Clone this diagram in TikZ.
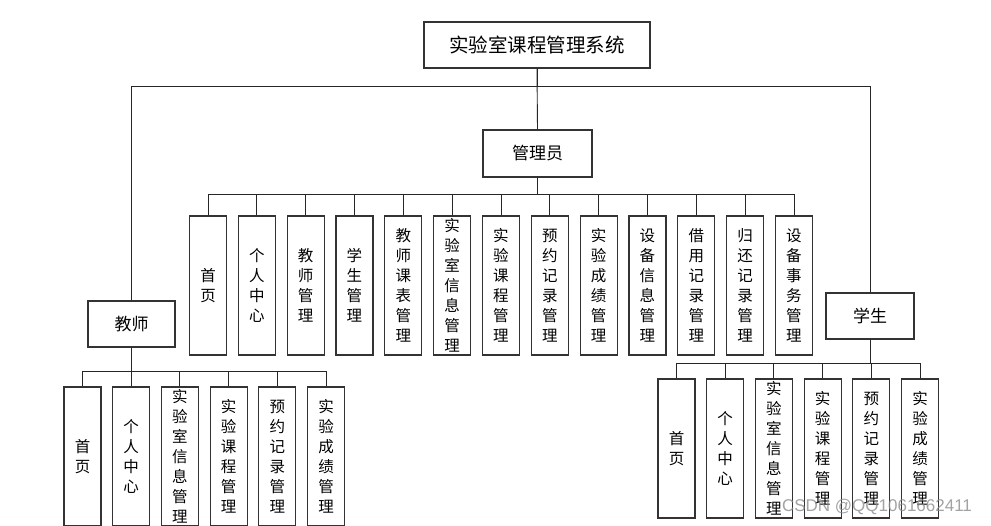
\documentclass[tikz,border=0pt]{standalone}
\usepackage{fontspec}
\newfontfamily\cjk{Noto Sans CJK SC}
\newfontfamily\wmfont{Liberation Sans}
\begin{document}
\begin{tikzpicture}[x=1pt,y=-1pt,
  box/.style={draw=black!80, line width=1.1pt, fill=white, inner sep=0pt, align=center, font=\cjk\fontsize{17}{20}\selectfont},
  vbox/.style={box, minimum width=37pt, minimum height=139pt, font=\cjk\fontsize{15.5}{20}\selectfont},
  link/.style={draw=black!85, line width=0.9pt}]
\useasboundingbox (0,0) rectangle (991,525);
\fill[white] (0,0) rectangle (991,525);
% top level
\node[box, minimum width=226pt, minimum height=46pt, font=\cjk\fontsize{19.5}{22}\selectfont] (sys) at (537,45) {实验室课程管理系统};
\node[box, minimum width=109pt, minimum height=47pt] (mgr) at (537.5,153.5) {管理员};
\node[box, minimum width=87pt, minimum height=46pt] (tea) at (131.5,324) {教师};
\node[box, minimum width=88pt, minimum height=46pt] (stu) at (870,316) {学生};
\coordinate (topbus) at (0,86);
\coordinate (abus) at (0,194);
\coordinate (tbus) at (0,371);
\coordinate (sbus) at (0,363);
% admin children
\foreach \i/\t in {0/{首\\页},1/{个\\人\\中\\心},2/{教\\师\\管\\理},3/{学\\生\\管\\理},4/{教\\师\\课\\表\\管\\理},5/{实\\验\\室\\信\\息\\管\\理},6/{实\\验\\课\\程\\管\\理},7/{预\\约\\记\\录\\管\\理},8/{实\\验\\成\\绩\\管\\理},9/{设\\备\\信\\息\\管\\理},10/{借\\用\\记\\录\\管\\理},11/{归\\还\\记\\录\\管\\理},12/{设\\备\\事\\务\\管\\理}}{
  \node[vbox] (a\i) at (208+\i*48.83,285.5) {\t};
  \draw[link] (mgr.south) -- (mgr.south |- abus) -| (a\i.north);
}
% teacher children
\foreach \i/\t in {0/{首\\页},1/{个\\人\\中\\心},2/{实\\验\\室\\信\\息\\管\\理},3/{实\\验\\课\\程\\管\\理},4/{预\\约\\记\\录\\管\\理},5/{实\\验\\成\\绩\\管\\理}}{
  \node[vbox] (t\i) at (82.5+\i*48.7,456.5) {\t};
  \draw[link] (tea.south) -- (tea.south |- tbus) -| (t\i.north);
}
% student children
\foreach \i/\t in {0/{首\\页},1/{个\\人\\中\\心},2/{实\\验\\室\\信\\息\\管\\理},3/{实\\验\\课\\程\\管\\理},4/{预\\约\\记\\录\\管\\理},5/{实\\验\\成\\绩\\管\\理}}{
  \node[vbox] (s\i) at (676.5+\i*48.7,448.5) {\t};
  \draw[link] (stu.south) -- (stu.south |- sbus) -| (s\i.north);
}
% top connectors
\draw[link] (sys.south) -- (mgr.north);
\draw[link] (sys.south) -- (sys.south |- topbus) -| (tea.north);
\draw[link] (sys.south) -- (sys.south |- topbus) -| (stu.north);
% watermark
\node[text=black!45, opacity=0.8, font=\wmfont\fontsize{17}{17}\selectfont, inner sep=0pt] (wm) at (877,507) {CSDN @QQ1061662411};
\end{tikzpicture}
\end{document}
